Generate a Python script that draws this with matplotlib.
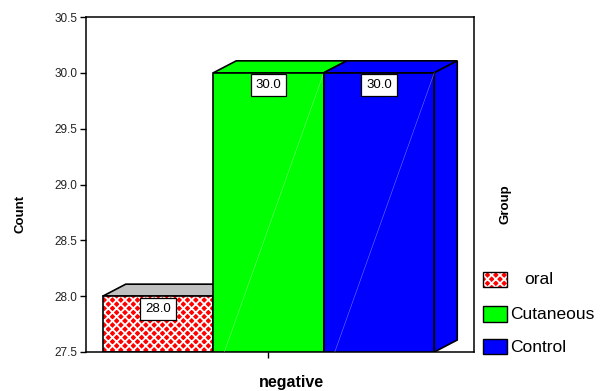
import matplotlib
matplotlib.use("Agg")
import matplotlib.pyplot as plt
from matplotlib.patches import Polygon, Rectangle

plt.rcParams['font.family'] = ['Liberation Sans', 'DejaVu Sans']
plt.rcParams['hatch.linewidth'] = 1.3

# ---- data ----
category = 'negative'
groups = ['oral', 'Cutaneous', 'Control']
counts = [28.0, 30.0, 30.0]
colors = ['#ff0000', '#00ff00', '#0000ff']
top_colors = ['#c0c0c0', '#00ff00', '#0000ff']
yticks = [27.5, 28.0, 28.5, 29.0, 29.5, 30.0, 30.5]

W, H = 609, 391
fig = plt.figure(figsize=(W / 100, H / 100), dpi=100)

def fx(x):
    return x / W

def fy(y):
    return 1 - y / H

ax_l, ax_r, ax_t, ax_b = 86, 474, 17, 352
ax = fig.add_axes([fx(ax_l), fy(ax_b), (ax_r - ax_l) / W, (ax_b - ax_t) / H])

ymin, ymax = 27.5, 30.5
ax.set_ylim(ymin, ymax)
bar_w = 1.0
px_per_unit_x = 110.5
ax.set_xlim((ax_l - 268.5) / px_per_unit_x, (ax_r - 268.5) / px_per_unit_x)

dx = 23 / px_per_unit_x
dy = 12 / ((ax_b - ax_t) / (ymax - ymin))

n = len(groups)
offsets = [(i - (n - 1) / 2) * bar_w for i in range(n)]

for i, (g, v, c, tc) in enumerate(zip(groups, counts, colors, top_colors)):
    x0 = offsets[i] - bar_w / 2
    x1 = offsets[i] + bar_w / 2
    # top face
    ax.add_patch(Polygon([(x0, v), (x1, v), (x1 + dx, v + dy), (x0 + dx, v + dy)],
                         closed=True, facecolor=tc, edgecolor='black', lw=1.2, zorder=2 + i))
    # right side face (only visible for last bar)
    if i == n - 1:
        ax.add_patch(Polygon([(x1, ymin), (x1, v), (x1 + dx, v + dy), (x1 + dx, ymin + dy)],
                             closed=True, facecolor=c, edgecolor='black', lw=1.2, zorder=2 + i))
    # front face
    if i == 0:
        ax.add_patch(Rectangle((x0, ymin), bar_w, v - ymin, facecolor=c, edgecolor='white',
                               hatch='xxxx', lw=0, zorder=2 + i))
        ax.add_patch(Rectangle((x0, ymin), bar_w, v - ymin, facecolor='none', edgecolor='black',
                               lw=1.2, zorder=2 + i))
    else:
        ax.add_patch(Rectangle((x0, ymin), bar_w, v - ymin, facecolor=c, edgecolor='black',
                               lw=1.2, zorder=2 + i))
        ax.plot([x0 + 0.1 * bar_w, x1], [ymin, v], color='white', lw=0.4, alpha=0.45, zorder=2.5 + i)
    ax.annotate(f'{v:.1f}', xy=(offsets[i], v), xytext=(0, -9), textcoords='offset points',
                ha='center', va='center', fontsize=9.5, zorder=10,
                bbox=dict(boxstyle='square,pad=0.38', facecolor='white', edgecolor='black', lw=0.9))

ax.set_yticks(yticks)
ax.set_yticklabels([f'{t:.1f}' for t in yticks])
ax.set_xticks([0])
ax.set_xticklabels([''])
ax.tick_params(axis='both', direction='out', length=4, width=1, labelsize=8.5, colors='black')
ax.tick_params(axis='y', pad=2, labelcolor='#222222')
for s in ax.spines.values():
    s.set_linewidth(1.1)
    s.set_color('black')

# axis titles
fig.text(fx(291), fy(383), category, ha='center', va='center', fontsize=11.5, fontweight='bold')
fig.text(fx(21), fy(214), 'Count', ha='center', va='center', rotation=90, fontsize=9.5, fontweight='bold')
fig.text(fx(505), fy(204), 'Group', ha='center', va='center', rotation=90, fontsize=9.5, fontweight='bold')

# legend
leg_rows = [(272, 287, 524), (306, 322, 510), (339, 354, 510)]
for (y0, y1, tx), g, c in zip(leg_rows, groups, colors):
    if g == 'oral':
        fig.patches.append(Rectangle((fx(483), fy(y1)), 24 / W, (y1 - y0) / H, transform=fig.transFigure,
                                     facecolor=c, edgecolor='white', hatch='xxxx', lw=0))
        fig.patches.append(Rectangle((fx(483), fy(y1)), 24 / W, (y1 - y0) / H, transform=fig.transFigure,
                                     facecolor='none', edgecolor='black', lw=1))
    else:
        fig.patches.append(Rectangle((fx(483), fy(y1)), 24 / W, (y1 - y0) / H, transform=fig.transFigure,
                                     facecolor=c, edgecolor='black', lw=1))
    fig.text(fx(tx), fy((y0 + y1) / 2 + 0.5), g, ha='left', va='center', fontsize=12.5)

fig.savefig('out.png', dpi=100)
